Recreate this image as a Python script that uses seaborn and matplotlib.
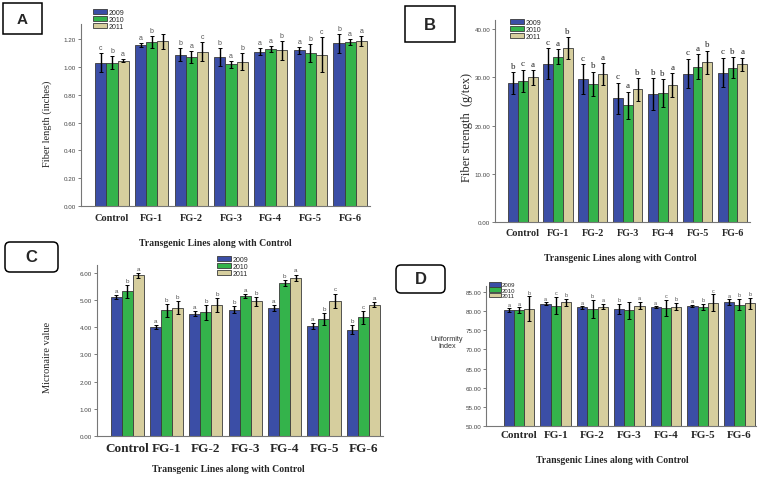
import pandas as pd
import matplotlib
matplotlib.use("Agg")
import matplotlib.pyplot as plt
from matplotlib.patches import FancyBboxPatch
from matplotlib.ticker import FormatStrFormatter
import seaborn as sns

sns.set_style("ticks")
plt.rcParams['font.family'] = ['Liberation Sans', 'DejaVu Sans']

# categories
lines = ["Control", "FG-1", "FG-2", "FG-3", "FG-4", "FG-5", "FG-6"]
years = ["2009", "2010", "2011"]
colors = ["#3b4ea6", "#34b34b", "#d6ce9e"]

# A - fiber length (inches), one list per year
length_2009 = [1.03, 1.16, 1.09, 1.07, 1.11, 1.12, 1.17]
length_2010 = [1.03, 1.18, 1.07, 1.02, 1.13, 1.10, 1.18]
length_2011 = [1.045, 1.185, 1.11, 1.04, 1.12, 1.09, 1.185]
length_err_2009 = [0.068, 0.015, 0.048, 0.065, 0.025, 0.024, 0.067]
length_err_2010 = [0.047, 0.043, 0.043, 0.024, 0.021, 0.067, 0.024]
length_err_2011 = [0.012, 0.053, 0.067, 0.06, 0.067, 0.126, 0.036]
length_let_2009 = ["c", "a", "b", "b", "a", "a", "b"]
length_let_2010 = ["b", "b", "a", "a", "a", "b", "a"]
length_let_2011 = ["a", "", "c", "b", "b", "c", "a"]

# B - fiber strength (g/tex)
strength_2009 = [28.8, 32.8, 29.6, 25.7, 26.5, 30.8, 31.0]
strength_2010 = [29.3, 34.3, 28.7, 24.2, 26.7, 32.2, 32.0]
strength_2011 = [30.0, 36.1, 30.7, 27.5, 28.4, 33.1, 32.7]
strength_err_2009 = [2.3, 3.2, 3.1, 3.2, 3.3, 3.1, 3.1]
strength_err_2010 = [2.3, 1.5, 2.5, 2.8, 2.9, 2.6, 2.2]
strength_err_2011 = [1.5, 2.2, 2.2, 2.3, 2.5, 2.4, 1.4]
strength_let_2009 = ["b", "c", "c", "c", "b", "c", "c"]
strength_let_2010 = ["c", "a", "b", "a", "b", "a", "b"]
strength_let_2011 = ["a", "b", "a", "b", "a", "b", "a"]

# C - micronaire value
micronaire_2009 = [5.10, 4.01, 4.50, 4.65, 4.71, 4.05, 3.91]
micronaire_2010 = [5.32, 4.62, 4.55, 5.14, 5.63, 4.32, 4.36]
micronaire_2011 = [5.91, 4.71, 4.81, 4.96, 5.82, 4.97, 4.83]
micronaire_err_2009 = [0.07, 0.06, 0.08, 0.14, 0.10, 0.11, 0.16]
micronaire_err_2010 = [0.23, 0.25, 0.27, 0.07, 0.12, 0.22, 0.24]
micronaire_err_2011 = [0.10, 0.24, 0.25, 0.16, 0.12, 0.27, 0.10]
micronaire_let_2009 = ["a", "a", "a", "b", "a", "a", "b"]
micronaire_let_2010 = ["b", "b", "b", "a", "b", "b", "c"]
micronaire_let_2011 = ["a", "b", "b", "b", "a", "c", "a"]

# D - uniformity index
uniformity_2009 = [80.3, 82.0, 81.0, 80.6, 81.1, 81.4, 82.4]
uniformity_2010 = [80.3, 81.5, 80.6, 80.2, 80.9, 81.1, 81.7]
uniformity_2011 = [80.7, 82.4, 81.2, 81.5, 81.2, 82.2, 82.1]
uniformity_err_2009 = [0.5, 0.3, 0.3, 1.3, 0.2, 0.3, 0.7]
uniformity_err_2010 = [0.7, 2.2, 2.4, 2.2, 2.1, 0.8, 1.5]
uniformity_err_2011 = [3.2, 0.9, 0.7, 0.9, 1.0, 2.2, 1.4]
uniformity_let_2009 = ["a", "a", "a", "b", "a", "a", "a"]
uniformity_let_2010 = ["a", "c", "b", "", "c", "b", "b"]
uniformity_let_2011 = ["b", "b", "a", "a", "b", "c", "b"]

W, H = 772, 481
fig = plt.figure(figsize=(W / 100, H / 100), dpi=100)


def fig_axes(x0, y0, x1, y1):
    # pixel box (top-left origin) -> figure axes
    return fig.add_axes([x0 / W, 1 - y1 / H, (x1 - x0) / W, (y1 - y0) / H])


def draw_panel(ax, means, errs, lets, ylim, yticks, xlim, xfs, xpad, letfont, legpos, legfs=5):
    rows = []
    for year, vals in zip(years, means):
        for line, v in zip(lines, vals):
            rows.append({"line": line, "year": year, "value": v})
    df = pd.DataFrame(rows)
    sns.barplot(data=df, x="line", y="value", hue="year", palette=colors,
                width=0.84, errorbar=None, edgecolor="#3a3a3a", linewidth=0.6,
                saturation=1, ax=ax)
    pad = (ylim[1] - ylim[0]) * 0.012
    for cont, err, lab in zip(ax.containers, errs, lets):
        xs = [p.get_x() + p.get_width() / 2 for p in cont]
        hs = [p.get_height() for p in cont]
        ax.errorbar(xs, hs, yerr=err, fmt="none", ecolor="black",
                    elinewidth=1.0, capsize=1.6, capthick=0.7)
        for x, h, e, t in zip(xs, hs, err, lab):
            ax.text(x, h + e + pad, t, ha="center", va="bottom", **letfont)
    ax.set_ylim(*ylim)
    ax.set_xlim(*xlim)
    ax.set_yticks(yticks)
    ax.yaxis.set_major_formatter(FormatStrFormatter("%.2f"))
    ax.set_xlabel("")
    ax.set_ylabel("")
    ax.tick_params(axis="x", length=0, pad=xpad)
    ax.tick_params(axis="y", labelsize=4.5, length=2.5, width=0.6,
                   colors="#666666", labelcolor="#444444", pad=1)
    for t in ax.get_xticklabels():
        t.set_fontfamily("Liberation Serif")
        t.set_fontweight("bold")
        t.set_fontsize(xfs)
    sns.despine(ax=ax)
    for s in ("left", "bottom"):
        ax.spines[s].set_color("#777777")
        ax.spines[s].set_linewidth(0.8)
    handles, labels = ax.get_legend_handles_labels()
    ax.legend(handles, labels, loc="upper left",
              bbox_to_anchor=(legpos[0] / W, 1 - legpos[1] / H),
              bbox_transform=fig.transFigure, frameon=False, fontsize=legfs,
              handlelength=2.0, handleheight=0.8, labelspacing=0.0,
              handletextpad=0.2, borderpad=0, borderaxespad=0)


def panel_box(x0, y0, x1, y1, label, rounded, size):
    style = "round,pad=0,rounding_size=0.05" if rounded else "square,pad=0"
    box = FancyBboxPatch((x0 / 100, (H - y1) / 100), (x1 - x0) / 100,
                         (y1 - y0) / 100, boxstyle=style, transform=fig.dpi_scale_trans,
                         facecolor="white", edgecolor="black", linewidth=1.1)
    fig.patches.append(box)
    fig.text((x0 + x1) / 2 / W, 1 - (y0 + y1) / 2 / H, label, ha="center",
             va="center", fontsize=size, fontweight="bold")


serif_bold = dict(fontfamily="Liberation Serif", fontweight="bold", fontsize=7)

# A
axA = fig_axes(81, 25, 370, 207)
draw_panel(axA, [length_2009, length_2010, length_2011],
           [length_err_2009, length_err_2010, length_err_2011],
           [length_let_2009, length_let_2010, length_let_2011],
           (0, 1.31), [0, 0.2, 0.4, 0.6, 0.8, 1.0, 1.2], (-0.78, 6.5), 7.5, 5,
           dict(fontsize=5, color="#555555"), (93, 10))
fig.text(47 / W, 1 - 124 / H, "Fiber length (inches)", rotation=90, ha="center",
         va="center", fontfamily="Liberation Serif", fontsize=7.5)
fig.text(215 / W, 1 - 244 / H, "Transgenic Lines along with Control",
         ha="center", va="center", **serif_bold)
panel_box(3, 4, 42, 35, "A", False, 11)

# B
axB = fig_axes(495, 21, 750, 223)
draw_panel(axB, [strength_2009, strength_2010, strength_2011],
           [strength_err_2009, strength_err_2010, strength_err_2011],
           [strength_let_2009, strength_let_2010, strength_let_2011],
           (0, 41.9), [0, 10, 20, 30, 40], (-0.8, 6.5), 7.3, 4,
           dict(fontsize=6.5, color="#222222", fontfamily="Liberation Serif"), (510, 20))
fig.text(467 / W, 1 - 127 / H, "Fiber strength  (g/tex)", rotation=90, ha="center",
         va="center", fontfamily="Liberation Serif", fontsize=9)
fig.text(620 / W, 1 - 259 / H, "Transgenic Lines along with Control",
         ha="center", va="center", **serif_bold)
panel_box(405, 7, 455, 43, "B", False, 12)

# C
axC = fig_axes(97, 266, 383, 437)
draw_panel(axC, [micronaire_2009, micronaire_2010, micronaire_2011],
           [micronaire_err_2009, micronaire_err_2010, micronaire_err_2011],
           [micronaire_let_2009, micronaire_let_2010, micronaire_let_2011],
           (0, 6.29), [0, 1, 2, 3, 4, 5, 6], (-0.77, 6.5), 9.5, 4,
           dict(fontsize=4.5, color="#555555"), (217, 257))
fig.text(47 / W, 1 - 357 / H, "Micronaire value", rotation=90, ha="center",
         va="center", fontfamily="Liberation Serif", fontsize=7.5)
fig.text(228 / W, 1 - 470 / H, "Transgenic Lines along with Control",
         ha="center", va="center", **serif_bold)
panel_box(5, 243, 58, 273, "C", True, 12)

# D
axD = fig_axes(486, 287, 756, 427)
draw_panel(axD, [uniformity_2009, uniformity_2010, uniformity_2011],
           [uniformity_err_2009, uniformity_err_2010, uniformity_err_2011],
           [uniformity_let_2009, uniformity_let_2010, uniformity_let_2011],
           (50, 86.6), [50, 55, 60, 65, 70, 75, 80, 85], (-0.9, 6.45), 8, 3,
           dict(fontsize=4, color="#555555"), (489, 283), legfs=4.3)
fig.text(447 / W, 1 - 343 / H, "Uniformity\nIndex", ha="center", va="center",
         fontsize=5.2, color="#333333", linespacing=1.0)
fig.text(612 / W, 1 - 461 / H, "Transgenic Lines along with Control",
         ha="center", va="center", **serif_bold)
panel_box(396, 266, 445, 294, "D", True, 12)

fig.savefig("out.png", dpi=100)
